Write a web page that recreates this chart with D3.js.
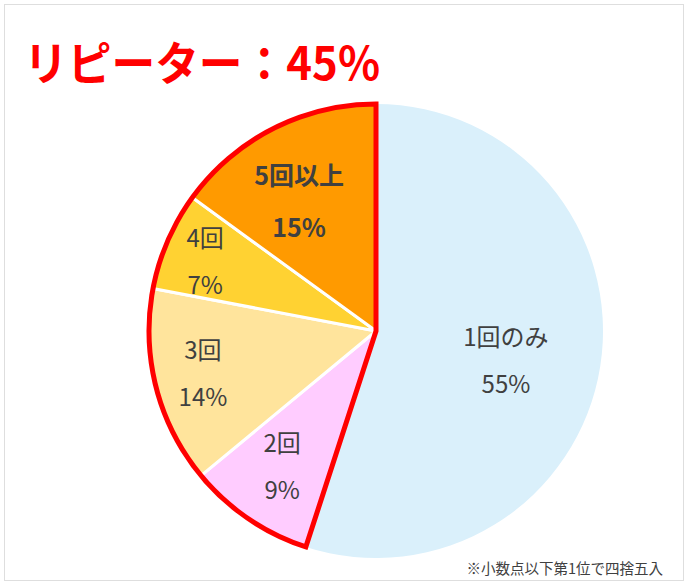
<!DOCTYPE html>
<html><head><meta charset="utf-8">
<script src="https://cdn.jsdelivr.net/npm/d3@7"></script>
<style>body{margin:0;background:#fff;}svg{display:block;font-family:"Noto Sans CJK JP","Noto Sans",sans-serif;}</style>
</head><body>
<svg id="chart" width="689" height="586"></svg>
<script>
const categories = ["1回のみ","2回","3回","4回","5回以上"];
const values = [55, 9, 14, 7, 15];
const colors = ["#DAF0FB","#FFCCFF","#FFE49C","#FFD232","#FF9A00"];
const repeaterTitle = "リピーター：45%";
const footnote = "※小数点以下第1位で四捨五入";

// label layout (radius factor, angle offset in degrees)
const labelRadius = [0.588, 0.728, 0.786, 0.812, 0.662];
const labelAngleOffset = [4.2, 0.4, 0.3, -1.4, -3.8];

const svg = d3.select("#chart");
svg.append("rect").attr("x",4.5).attr("y",4.5).attr("width",679).attr("height",576)
  .attr("fill","#fff").attr("stroke","#dedede").attr("stroke-width",1);

const cx = 376, cy = 331, R = 227;
const g = svg.append("g").attr("transform",`translate(${cx},${cy})`);
const pie = d3.pie().sort(null).value(d=>d.v);
const arcs = pie(categories.map((c,i)=>({c, v:values[i], i})));
const arc = d3.arc().innerRadius(0).outerRadius(R);

g.selectAll("path.slice").data(arcs).join("path").attr("class","slice")
  .attr("d",arc).attr("fill",d=>colors[d.data.i])
  .attr("stroke",d=>d.data.i===0?"none":"#fff").attr("stroke-width",3).attr("stroke-linejoin","round");

// red outline around repeaters
const rep = arcs.slice(1);
const repArc = d3.arc().innerRadius(0).outerRadius(R)
  .startAngle(rep[0].startAngle).endAngle(rep[rep.length-1].endAngle);
g.append("path").attr("d",repArc()).attr("fill","none").attr("stroke","#FF0000")
  .attr("stroke-width",5).attr("stroke-linejoin","miter");

// labels
arcs.forEach((d,k)=>{
  const a = (d.startAngle+d.endAngle)/2 + labelAngleOffset[k]*Math.PI/180;
  const r = R*labelRadius[k];
  const x = Math.sin(a)*r, y = -Math.cos(a)*r;
  const bold = k===4;
  const fs = bold ? 25 : 24;
  const half = bold ? 26 : 23.5;
  const t = g.append("text").attr("text-anchor","middle").attr("fill","#404040")
    .attr("font-size",fs).attr("font-weight",bold?"bold":"normal");
  t.append("tspan").attr("x",x).attr("y",y-half+fs*0.35).text(d.data.c);
  t.append("tspan").attr("x",x).attr("y",y+half+fs*0.35).text(values[k]+"%");
});

svg.append("text").attr("x",24).attr("y",80).attr("fill","#FF0000").attr("font-size",46)
  .attr("font-weight","bold").attr("textLength",356).attr("lengthAdjust","spacingAndGlyphs")
  .text(repeaterTitle);
svg.append("text").attr("x",663).attr("y",574).attr("text-anchor","end").attr("fill","#404040")
  .attr("font-size",14.5).text(footnote);
</script>
</body></html>
